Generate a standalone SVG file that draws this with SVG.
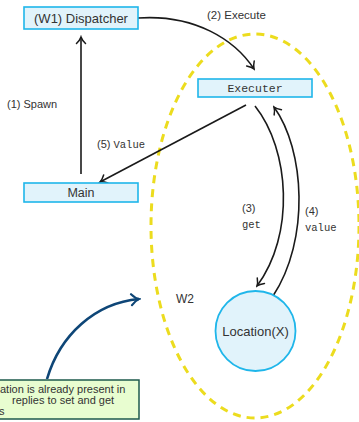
<svg xmlns="http://www.w3.org/2000/svg" width="359" height="422" viewBox="0 0 359 422">
  <style>
    .box { fill: #e1f3fb; stroke: #1fb6ea; stroke-width: 1.6; }
    .sans { font-family: "Liberation Sans", "DejaVu Sans", sans-serif; fill: #333; }
    .mono { font-family: "Liberation Mono", "DejaVu Sans Mono", monospace; fill: #333; }
    .edge { fill: none; stroke: #1a1a1a; stroke-width: 1.6; }
    .note-edge { fill: none; stroke: #0e4677; stroke-width: 2.6; }
  </style>
  <defs>
    <marker id="arrow" viewBox="-8 -6 10 12" markerWidth="10" markerHeight="12" refX="0" refY="0" orient="auto" markerUnits="userSpaceOnUse">
      <path d="M-6.5,-4.5 Q-3,-1 0,0 Q-3,1 -6.5,4.5" fill="none" stroke="#1a1a1a" stroke-width="1.5" stroke-linecap="round"/>
    </marker>
    <marker id="arrow-blue" viewBox="-10 -7 12 14" markerWidth="12" markerHeight="14" refX="0" refY="0" orient="auto" markerUnits="userSpaceOnUse">
      <path d="M-7.5,-5.5 Q-3.5,-1 0,0 Q-3.5,1 -7.5,5.5" fill="none" stroke="#0e4677" stroke-width="2.2" stroke-linecap="round"/>
    </marker>
  </defs>

  <!-- worker W2 boundary -->
  <g id="w2">
    <ellipse cx="255" cy="226" rx="104" ry="192" fill="none" stroke="#ecdc1e" stroke-width="3" stroke-dasharray="8 6"/>
    <text class="sans" x="176" y="303" font-size="12">W2</text>
  </g>

  <!-- connectors -->
  <g id="connectors">
    <path class="edge" d="M81,174 L81,37" marker-end="url(#arrow)"/>
    <text class="sans" x="7" y="108" font-size="11">(1) Spawn</text>

    <path class="edge" d="M138,18 C195,14 235,40 254,69" marker-end="url(#arrow)"/>
    <text class="sans" x="207" y="19" font-size="11.5">(2) Execute</text>

    <path class="edge" d="M255,106 C290,150 295,235 257,286" marker-end="url(#arrow)"/>
    <text class="sans" x="242" y="212" font-size="11">(3)</text>
    <text class="mono" x="242" y="228" font-size="10.5">get</text>

    <path class="edge" d="M273,296 C310,240 305,150 274,107" marker-end="url(#arrow)"/>
    <text class="sans" x="305" y="215" font-size="11">(4)</text>
    <text class="mono" x="305" y="231" font-size="10.5">value</text>

    <path class="edge" d="M246,105 L100,182" marker-end="url(#arrow)"/>
    <text x="97" y="148"><tspan class="sans" font-size="11">(5) </tspan><tspan class="mono" font-size="10.5">Value</tspan></text>

    <path class="note-edge" d="M47,379 C60,335 95,303 139,299" marker-end="url(#arrow-blue)"/>
  </g>

  <g id="dispatcher">
    <rect class="box" x="24" y="7" width="114" height="22"/>
    <text class="sans" x="81" y="23" font-size="13" text-anchor="middle">(W1) Dispatcher</text>
  </g>

  <g id="executer">
    <rect class="box" x="198" y="79" width="114" height="18"/>
    <text class="mono" x="255" y="92" font-size="11.5" text-anchor="middle">Executer</text>
  </g>

  <g id="main">
    <rect class="box" x="24" y="183" width="114" height="19"/>
    <text class="sans" x="81" y="197" font-size="12.5" text-anchor="middle">Main</text>
  </g>

  <g id="location">
    <circle cx="255.5" cy="331" r="40" fill="#e1f3fb" stroke="#1fb6ea" stroke-width="1.8"/>
    <text class="sans" x="255.5" y="336" font-size="13" text-anchor="middle">Location(X)</text>
  </g>

  <g id="note">
    <rect x="-10" y="380" width="149" height="39" fill="#e8fdd0" stroke="#1e5a4c" stroke-width="1.5"/>
    <text class="sans" x="0" y="393" font-size="11">ation is already present in</text>
    <text class="sans" x="12" y="404" font-size="11">replies to set and get</text>
    <text class="sans" x="-1" y="415" font-size="11">s</text>
  </g>
</svg>
